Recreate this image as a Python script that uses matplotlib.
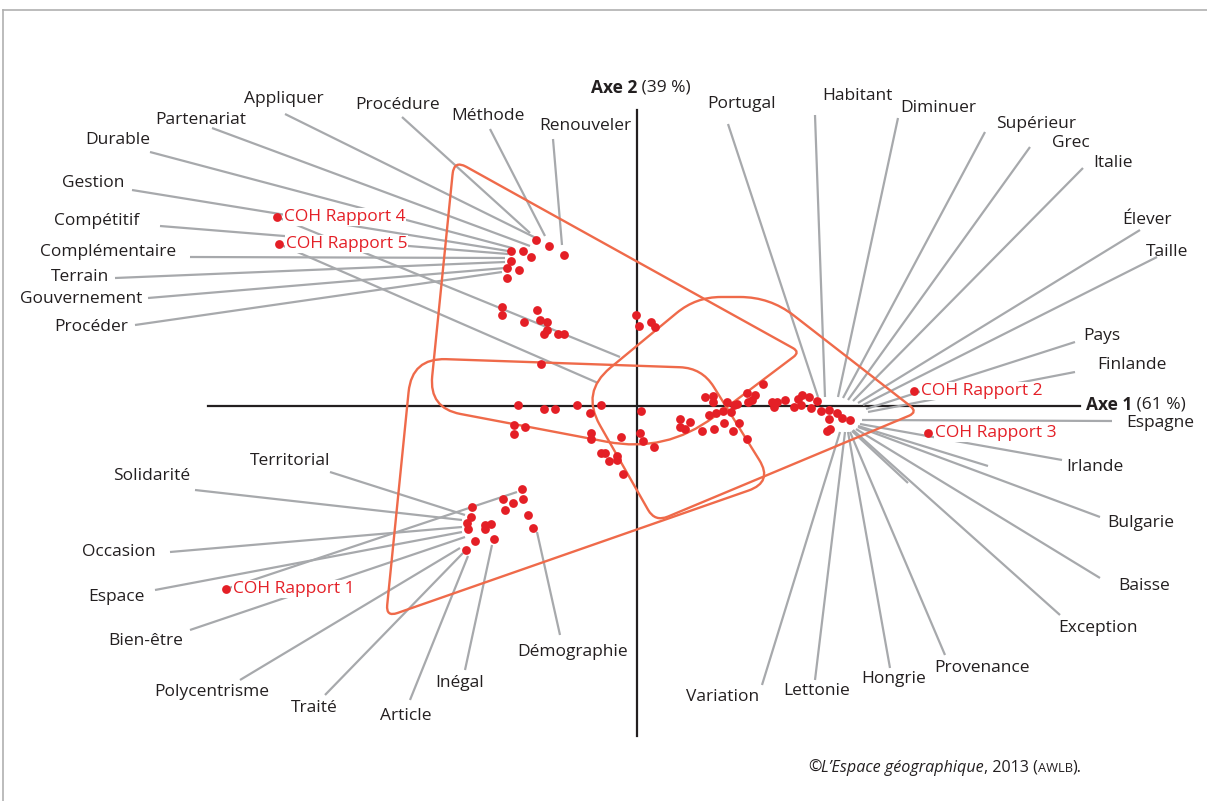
import numpy as np
import matplotlib
matplotlib.use("Agg")
import matplotlib.pyplot as plt
from matplotlib.path import Path
from matplotlib.patches import PathPatch

# ---------------- data (factor scores: x = Axe 1, y = Axe 2) ----------------
S = 100.0
def P(px, py):
    return ((px - 637) / S, (406 - py) / S)

word_pts_px = [
    (536, 240), (549, 246), (564, 255), (511, 251), (523, 251), (531, 257), (511, 261),
    (507, 268), (519, 270), (507, 278),
    (502, 307), (502, 315), (537, 310), (524, 322), (540, 320), (547, 322), (547, 330),
    (544, 334), (558, 334), (564, 334), (541, 364),
    (636, 315), (639, 326), (651, 322), (655, 327),
    (518, 405), (544, 409), (555, 409), (577, 405), (601, 405), (590, 413), (641, 411),
    (514, 425), (525, 427), (514, 434), (591, 433), (591, 439), (621, 437), (640, 433),
    (643, 441), (654, 447), (601, 453), (605, 453), (617, 456), (617, 460), (609, 461),
    (623, 474),
    (705, 397), (713, 396), (713, 402), (727, 402), (734, 405), (737, 404), (747, 393),
    (755, 395), (752, 400), (748, 402), (723, 411), (716, 413), (709, 415), (731, 412),
    (680, 419), (690, 422), (680, 427), (685, 429), (702, 431), (714, 429), (724, 423),
    (739, 423), (733, 431), (747, 439),
    (763, 384), (772, 402), (777, 402), (774, 407), (785, 400), (802, 395), (809, 397),
    (798, 399), (801, 405), (794, 407), (817, 401), (811, 408), (821, 411), (829, 410),
    (837, 413), (842, 418), (850, 420), (829, 419), (830, 429), (827, 431),
    (522, 489), (503, 499), (513, 503), (523, 499), (505, 510), (528, 515), (533, 528),
    (472, 507), (471, 517), (467, 523), (468, 529), (485, 525), (491, 524), (485, 529),
    (494, 539), (475, 541), (466, 550),
]
word_x = [P(*p)[0] for p in word_pts_px]
word_y = [P(*p)[1] for p in word_pts_px]

coh_labels = ["COH Rapport 1", "COH Rapport 2", "COH Rapport 3", "COH Rapport 4", "COH Rapport 5"]
coh_px = [(226, 589), (914, 391), (928, 433), (277, 217), (279, 244)]
coh_x = [P(*p)[0] for p in coh_px]
coh_y = [P(*p)[1] for p in coh_px]
# leader lines from COH points toward their word clusters
coh_lines = [((277, 217), (620, 357)), ((279, 244), (598, 383)), ((226, 589), (517, 492))]

# word labels: (text, label centre, leader start, leader end)
labels = [
    ("Appliquer", (284, 99), (285, 114), (536, 238)),
    ("Partenariat", (201, 120), (212, 128), (530, 246)),
    ("Procédure", (398, 105), (402, 117), (530, 233)),
    ("Méthode", (488, 116), (490, 129), (545, 236)),
    ("Renouveler", (585, 126), (553, 139), (562, 245)),
    ("Durable", (118, 140), (150, 152), (512, 248)),
    ("Gestion", (93, 183), (132, 190), (508, 251)),
    ("Compétitif", (97, 221), (160, 226), (508, 254)),
    ("Complémentaire", (108, 252), (190, 257), (505, 258)),
    ("Terrain", (80, 277), (115, 278), (505, 262)),
    ("Gouvernement", (81, 299), (148, 298), (505, 268)),
    ("Procéder", (91, 327), (135, 325), (502, 272)),
    ("Portugal", (742, 104), (728, 124), (818, 397)),
    ("Habitant", (857, 96), (815, 115), (825, 397)),
    ("Diminuer", (938, 108), (898, 118), (838, 397)),
    ("Supérieur", (1036, 124), (985, 132), (843, 398)),
    ("Grec", (1071, 143), (1030, 147), (848, 400)),
    ("Italie", (1113, 163), (1083, 168), (853, 401)),
    ("Élever", (1147, 220), (1140, 230), (858, 403)),
    ("Taille", (1167, 252), (1157, 257), (863, 405)),
    ("Pays", (1102, 336), (1075, 342), (866, 409)),
    ("Finlande", (1132, 365), (1075, 372), (868, 412)),
    ("Espagne", (1160, 423), (1112, 421), (862, 420)),
    ("Irlande", (1095, 467), (1062, 460), (860, 424)),
    ("Bulgarie", (1141, 523), (1100, 517), (858, 427)),
    ("Baisse", (1144, 586), (1100, 578), (856, 429)),
    ("Exception", (1098, 628), (1060, 615), (853, 430)),
    ("Provenance", (982, 668), (945, 655), (850, 432)),
    ("Hongrie", (894, 679), (890, 668), (848, 432)),
    ("Lettonie", (817, 691), (815, 680), (845, 432)),
    ("Variation", (723, 697), (762, 685), (840, 432)),
    ("Territorial", (290, 461), (330, 472), (465, 515)),
    ("Solidarité", (152, 476), (195, 490), (462, 520)),
    ("Occasion", (119, 552), (170, 552), (462, 527)),
    ("Espace", (116, 597), (155, 590), (462, 532)),
    ("Bien-être", (146, 641), (190, 630), (465, 537)),
    ("Polycentrisme", (212, 692), (240, 680), (460, 548)),
    ("Traité", (314, 708), (325, 695), (463, 553)),
    ("Article", (406, 716), (410, 700), (468, 556)),
    ("Inégal", (460, 683), (465, 670), (492, 545)),
    ("Démographie", (573, 652), (560, 635), (537, 532)),
]
# unlabelled leaders on the right
extra_lines = [((988, 466), (858, 426)), ((908, 483), (852, 431))]

# group outlines (rounded convex polygons): vertices and corner radii
hullT_px = [(454, 160), (800, 352), (666, 453), (429, 408)]
hullT_r = [14, 8, 60, 32]
hullC_px = [(581, 392), (696, 297), (770, 297), (918, 412), (655, 522)]
hullC_r = [38, 25, 30, 10, 14]
hullH_px = [(412, 358), (702, 368), (773, 482), (386, 617)]
hullH_r = [34, 22, 26, 12]

# ---------------- drawing ----------------
FS = 12.5
plt.rcParams['font.family'] = ['Open Sans', 'DejaVu Sans']
fig = plt.figure(figsize=(12.07, 8.01), dpi=100)
ax = fig.add_axes([0, 0, 1, 1])
x0, y0 = P(0, 801)
x1, y1 = P(1207, 0)
ax.set_xlim(x0, x1)
ax.set_ylim(y0, y1)
ax.axis("off")

GRAY = "#a7a9ac"
RED = "#e41f26"
ORANGE = "#ef6a4a"
INK = "#231f20"

def rounded_path(verts, radii):
    v = np.array(verts, float)
    n = len(v)
    codes, pts = [], []
    for i in range(n):
        p0, p1, p2 = v[i - 1], v[i], v[(i + 1) % n]
        r = radii[i]
        d0 = (p0 - p1) / np.linalg.norm(p0 - p1)
        d2 = (p2 - p1) / np.linalg.norm(p2 - p1)
        a = p1 + d0 * r
        b = p1 + d2 * r
        pts.append(a); codes.append(Path.MOVETO if i == 0 else Path.LINETO)
        pts += [p1, b]; codes += [Path.CURVE3, Path.CURVE3]
    pts.append(pts[0]); codes.append(Path.LINETO)
    return Path(pts, codes)

for hull, radii in [(hullT_px, hullT_r), (hullC_px, hullC_r), (hullH_px, hullH_r)]:
    verts = [P(*p) for p in hull]
    ax.add_patch(PathPatch(rounded_path(verts, [r / S for r in radii]), fill=False,
                           ec=ORANGE, lw=1.7, zorder=2, joinstyle="round"))

# axes
ax.plot([P(208, 0)[0], P(1080, 0)[0]], [0, 0], color=INK, lw=1.6, zorder=1)
ax.plot([0, 0], [P(0, 110)[1], P(0, 736)[1]], color=INK, lw=1.6, zorder=1)

for text, lp, s, e in labels:
    sx, sy = P(*s); ex, ey = P(*e)
    ax.plot([sx, ex], [sy, ey], color=GRAY, lw=1.6, zorder=1.5, solid_capstyle="butt")
    lx, ly = P(*lp)
    ax.text(lx, ly, text, ha="center", va="center", fontsize=FS, color=INK, zorder=4)
for s, e in extra_lines + coh_lines:
    sx, sy = P(*s); ex, ey = P(*e)
    ax.plot([sx, ex], [sy, ey], color=GRAY, lw=1.6, zorder=1.5, solid_capstyle="butt")

ax.scatter(word_x, word_y, s=40, color=RED, zorder=3, linewidths=0)
ax.scatter(coh_x, coh_y, s=40, color=RED, zorder=3, linewidths=0)
for t, x, y in zip(coh_labels, coh_x, coh_y):
    ax.text(x + 0.07, y, t, ha="left", va="center", fontsize=FS, color=RED, zorder=4,
            bbox=dict(boxstyle="square,pad=0.05", fc="white", ec="none"))

fig.canvas.draw()
renderer = fig.canvas.get_renderer()

def seq(start_px, y_px, parts, fs):
    x = start_px
    for txt, kw in parts:
        size = fs * kw.pop("scale", 1.0)
        t = ax.text(*P(x, y_px), txt, ha="left", va="center", fontsize=size,
                    color=INK, **kw)
        bb = t.get_window_extent(renderer)
        x += bb.width

seq(591, 88, [("Axe 2", {"fontweight": "bold"}), (" (39 %)", {})], FS)
seq(1086, 405, [("Axe 1", {"fontweight": "bold"}), (" (61 %)", {})], FS)
seq(808, 768, [("©", {}), ("L’Espace géographique", {"style": "italic"}),
               (", 2013 (", {}), ("AWLB", {"scale": 0.8}), (").", {})], 11.6)

# frame
ax.plot([P(3, 0)[0], P(1207, 0)[0]], [P(0, 10)[1]] * 2, color="#b0b0b0", lw=1.2)
ax.plot([P(3, 0)[0]] * 2, [P(0, 10)[1], P(0, 801)[1]], color="#b0b0b0", lw=1.2)

fig.savefig("out.png", dpi=100)
